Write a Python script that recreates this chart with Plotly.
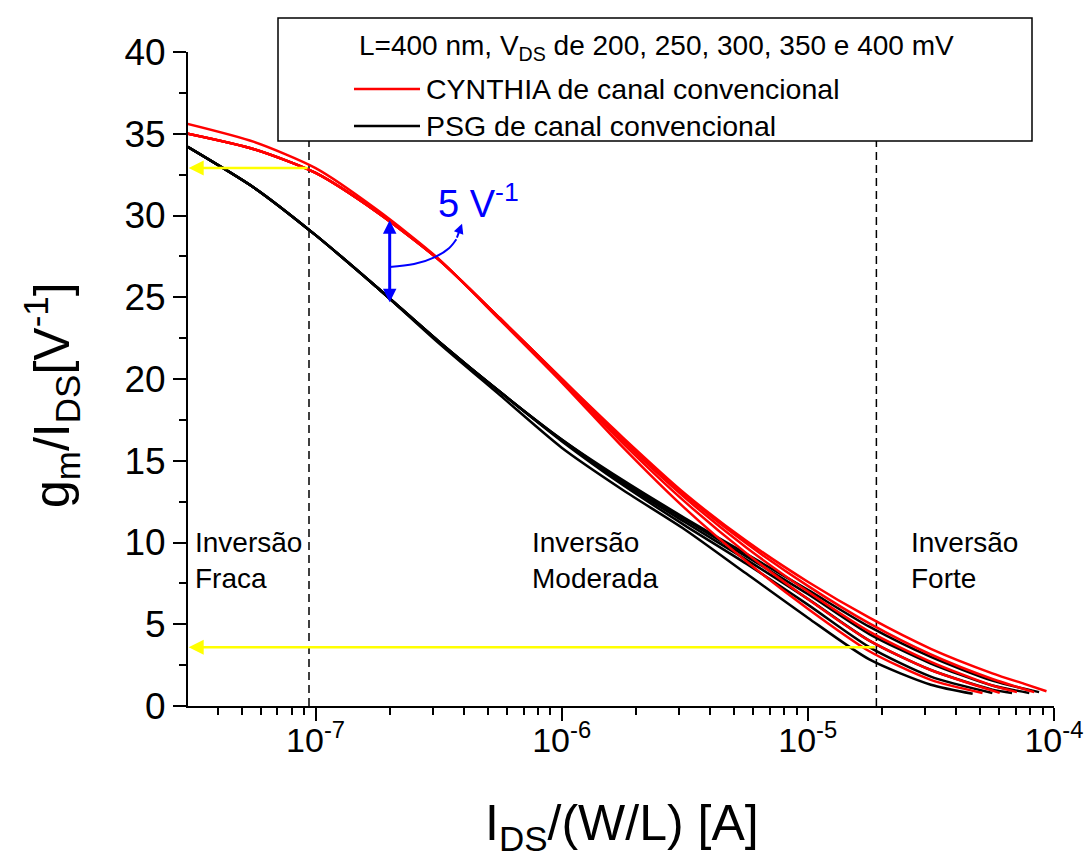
import math
import plotly.graph_objects as go

# log10 of I_DS/(W/L) [A] shared by every curve
log_ids_common = [-7.52, -7.25, -7.0, -6.75, -6.5, -6.25, -6.0, -5.75, -5.5, -5.25, -5.0, -4.75, -4.5]

# CYNTHIA, conventional channel (VDS = 200 ... 400 mV)
logid_cyn_200 = log_ids_common + [-4.29]
gm_cyn_200 = [35.6, 34.5, 32.9, 30.35, 27.35, 23.6, 19.8, 15.8, 12.1, 8.85, 5.95, 3.35, 1.6, 0.8]
logid_cyn_250 = log_ids_common + [-4.22]
gm_cyn_250 = [35.0, 34.05, 32.6, 30.2, 27.3, 23.65, 19.9, 16.05, 12.5, 9.35, 6.55, 4.0, 2.2, 0.8]
logid_cyn_300 = log_ids_common + [-4.25, -4.15]
gm_cyn_300 = [35.0, 34.05, 32.6, 30.2, 27.3, 23.7, 20.0, 16.2, 12.75, 9.7, 7.0, 4.55, 2.7, 1.25, 0.85]
logid_cyn_350 = log_ids_common + [-4.25, -4.08]
gm_cyn_350 = [35.0, 34.05, 32.6, 30.2, 27.3, 23.7, 20.0, 16.3, 12.9, 9.95, 7.35, 5.05, 3.15, 1.65, 0.85]
logid_cyn_400 = log_ids_common + [-4.25, -4.12, -4.03]
gm_cyn_400 = [35.0, 34.05, 32.6, 30.2, 27.3, 23.7, 20.0, 16.4, 13.0, 10.1, 7.6, 5.4, 3.5, 2.0, 1.35, 0.9]

# PSG, conventional channel (VDS = 200 ... 400 mV)
logid_psg_200 = log_ids_common + [-4.33]
gm_psg_200 = [34.2, 31.7, 28.8, 25.6, 22.2, 19.0, 15.8, 13.2, 10.8, 8.1, 5.4, 2.85, 1.3, 0.75]
logid_psg_250 = log_ids_common + [-4.25]
gm_psg_250 = [34.2, 31.7, 28.8, 25.6, 22.3, 19.2, 16.2, 13.5, 11.05, 8.7, 6.2, 3.6, 1.8, 0.8]
logid_psg_300 = log_ids_common + [-4.25, -4.17]
gm_psg_300 = [34.2, 31.7, 28.8, 25.6, 22.3, 19.2, 16.25, 13.6, 11.25, 8.95, 6.55, 4.0, 2.2, 1.0, 0.8]
logid_psg_350 = log_ids_common + [-4.25, -4.10]
gm_psg_350 = [34.2, 31.7, 28.8, 25.6, 22.3, 19.2, 16.3, 13.7, 11.4, 9.15, 6.85, 4.4, 2.6, 1.25, 0.8]
logid_psg_400 = log_ids_common + [-4.25, -4.06]
gm_psg_400 = [34.2, 31.7, 28.8, 25.6, 22.3, 19.2, 16.3, 13.8, 11.5, 9.3, 7.1, 4.85, 3.0, 1.55, 0.85]

# weak/moderate and moderate/strong inversion limits [A]
region_bounds = [9.4e-8, 1.9e-5]
# gm/IDS read at those limits [1/V]
gm_at_bounds = [32.9, 3.6]
# gm/IDS gap between the models at 2e-7 A
gap_current = 2.0e-7
gap_low, gap_high = 24.7, 29.8

x_ticks = [1e-7, 1e-6, 1e-5, 1e-4]
x_tick_text = ["10<sup>-7</sup>", "10<sup>-6</sup>", "10<sup>-5</sup>", "10<sup>-4</sup>"]

RED = "#ff0000"
BLACK = "#000000"
BLUE = "#0000ff"
YELLOW = "#ffff00"
SANS = "Liberation Sans, Arial, sans-serif"

fig = go.Figure()

psg = [(logid_psg_200, gm_psg_200), (logid_psg_250, gm_psg_250), (logid_psg_300, gm_psg_300),
       (logid_psg_350, gm_psg_350), (logid_psg_400, gm_psg_400)]
cyn = [(logid_cyn_200, gm_cyn_200), (logid_cyn_250, gm_cyn_250), (logid_cyn_300, gm_cyn_300),
       (logid_cyn_350, gm_cyn_350), (logid_cyn_400, gm_cyn_400)]

# region boundaries
for xb in region_bounds:
    fig.add_trace(go.Scatter(x=[xb, xb], y=[0, 40], mode="lines",
                             line=dict(color=BLACK, width=1.5, dash="8px,5px"),
                             showlegend=False, hoverinfo="skip"))

for lx, gy in psg:
    fig.add_trace(go.Scatter(x=[10 ** v for v in lx], y=gy, mode="lines",
                             line=dict(color=BLACK, width=2.5, shape="spline", smoothing=0.7),
                             showlegend=False))
for lx, gy in cyn:
    fig.add_trace(go.Scatter(x=[10 ** v for v in lx], y=gy, mode="lines",
                             line=dict(color=RED, width=2.5, shape="spline", smoothing=0.7),
                             showlegend=False))

# curved pointer from the gap arrow to its label
hook_log = [math.log10(gap_current), -6.60, -6.515, -6.458, -6.428]
hook_gm = [26.85, 27.03, 27.46, 28.0, 28.55]
fig.add_trace(go.Scatter(x=[10 ** v for v in hook_log], y=hook_gm, mode="lines",
                         line=dict(color=BLUE, width=2, shape="spline", smoothing=1.0),
                         showlegend=False, hoverinfo="skip"))

annotations = []
x_left = math.log10(3.05e-8)
for xb, gv in zip(region_bounds, gm_at_bounds):
    annotations.append(dict(x=x_left, y=gv, ax=math.log10(xb), ay=gv, xref="x", yref="y",
                            axref="x", ayref="y", showarrow=True, arrowhead=2, arrowsize=1.2,
                            arrowwidth=2.5, arrowcolor=YELLOW, text=""))

gx = math.log10(gap_current)
annotations.append(dict(x=gx, y=gap_low, ax=gx, ay=gap_high, xref="x", yref="y",
                        axref="x", ayref="y", showarrow=True, arrowhead=2, startarrowhead=2,
                        arrowside="end+start", arrowsize=0.9, startarrowsize=0.9,
                        arrowwidth=3, arrowcolor=BLUE, text=""))
annotations.append(dict(x=-6.405, y=29.5, ax=hook_log[-1], ay=hook_gm[-1], xref="x", yref="y",
                        axref="x", ayref="y", showarrow=True, arrowhead=2, arrowsize=1.0,
                        arrowwidth=2, arrowcolor=BLUE, text=""))
annotations.append(dict(x=-6.51, y=30.9, xref="x", yref="y", xanchor="left", yanchor="middle",
                        text="5 V<sup>-1</sup>", showarrow=False,
                        font=dict(family=SANS, size=38, color=BLUE)))

def px_x(p):
    return (p - 188) / 866.0

def px_y(p):
    return (706 - p) / 654.0

# region labels
for txt, xp in [("Inversão<br>Fraca", 193), ("Inversão<br>Moderada", 530), ("Inversão<br>Forte", 909)]:
    annotations.append(dict(x=px_x(xp), y=px_y(525), xref="paper", yref="paper",
                            xanchor="left", yanchor="top", align="left", text=txt,
                            showarrow=False, font=dict(family=SANS, size=28, color=BLACK)))

# legend block
annotations.append(dict(x=px_x(656), y=px_y(47), xref="paper", yref="paper", xanchor="center",
                        yanchor="middle", showarrow=False,
                        text="L=400 nm, V<sub>DS</sub> de 200, 250, 300, 350 e 400 mV",
                        font=dict(family=SANS, size=28, color=BLACK)))
for txt, py in [("CYNTHIA de canal convencional", 89), ("PSG de canal convencional", 126)]:
    annotations.append(dict(x=px_x(424), y=px_y(py), xref="paper", yref="paper", xanchor="left",
                            yanchor="middle", showarrow=False, text=txt,
                            font=dict(family=SANS, size=28.5, color=BLACK)))

# axis titles
annotations.append(dict(x=px_x(622), y=px_y(826), xref="paper", yref="paper", xanchor="center",
                        yanchor="middle", showarrow=False, text="I<sub>DS</sub>/(W/L) [A]",
                        font=dict(family=SANS, size=50, color=BLACK)))
annotations.append(dict(x=px_x(52), y=px_y(395), xref="paper", yref="paper", xanchor="center",
                        yanchor="middle", showarrow=False, textangle=-90,
                        text="g<sub>m</sub>/I<sub>DS</sub>[V<sup>-1</sup>]",
                        font=dict(family=SANS, size=50, color=BLACK)))

shapes = [
    dict(type="rect", xref="paper", yref="paper", x0=px_x(278), x1=px_x(1032),
         y0=px_y(141), y1=px_y(18), line=dict(color=BLACK, width=1.5),
         fillcolor="white", layer="above"),
    dict(type="line", xref="paper", yref="paper", x0=px_x(354), x1=px_x(420),
         y0=px_y(89), y1=px_y(89), line=dict(color=RED, width=2.5), layer="above"),
    dict(type="line", xref="paper", yref="paper", x0=px_x(354), x1=px_x(420),
         y0=px_y(126), y1=px_y(126), line=dict(color=BLACK, width=2.5), layer="above"),
]

minor_x = [k * 10.0 ** e for e in range(-8, -4) for k in range(2, 10) if k * 10.0 ** e >= 2.99e-8]

fig.update_layout(
    width=1085, height=865,
    margin=dict(l=188, r=31, t=52, b=159, autoexpand=False),
    paper_bgcolor="white", plot_bgcolor="white",
    showlegend=False,
    annotations=annotations,
    shapes=shapes,
    xaxis=dict(type="log", range=[math.log10(3.03e-8), -3.9995], showgrid=False, zeroline=False,
               automargin=False,
               showline=True, linecolor=BLACK, linewidth=2,
               ticks="outside", ticklen=13, tickwidth=2, tickcolor=BLACK,
               tickmode="array", tickvals=x_ticks, ticktext=x_tick_text,
               ticklabelstandoff=-10, ticklabeloverflow="allow",
               tickfont=dict(family=SANS, size=34, color=BLACK),
               minor=dict(ticks="outside", ticklen=7, tickwidth=2, tickcolor=BLACK,
                          tickmode="array", tickvals=minor_x)),
    yaxis=dict(range=[0, 40], showgrid=False, zeroline=False,
               automargin=False,
               showline=True, linecolor=BLACK, linewidth=2,
               ticks="outside", ticklen=13, tickwidth=2, tickcolor=BLACK,
               tickmode="linear", tick0=0, dtick=5,
               tickfont=dict(family=SANS, size=37, color=BLACK),
               minor=dict(ticks="outside", ticklen=7, tickwidth=2, tickcolor=BLACK, dtick=2.5)),
)

fig.write_html("out.html")
